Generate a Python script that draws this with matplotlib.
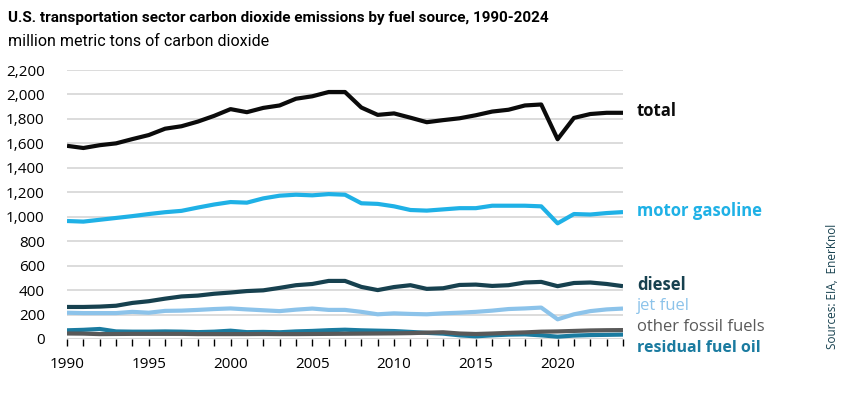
import matplotlib
matplotlib.use('Agg')
import matplotlib.pyplot as plt
import numpy as np

# years on the x axis
years = list(range(1990, 2025))

# million metric tons CO2
total = [1580, 1562, 1585, 1600, 1635, 1668, 1720, 1740, 1778, 1825, 1880, 1855, 1890, 1910, 1965, 1985, 2020, 2020, 1893, 1833, 1845, 1810, 1773, 1790, 1805, 1830, 1860, 1875, 1910, 1918, 1634, 1808, 1840, 1850, 1850]
motor_gasoline = [965, 960, 975, 990, 1005, 1022, 1037, 1048, 1075, 1100, 1120, 1115, 1150, 1172, 1180, 1175, 1185, 1180, 1110, 1105, 1085, 1055, 1050, 1060, 1070, 1070, 1090, 1090, 1090, 1085, 946, 1022, 1018, 1030, 1038]
diesel = [262, 262, 265, 272, 295, 309, 330, 348, 355, 370, 380, 392, 398, 418, 440, 450, 475, 475, 426, 400, 425, 440, 410, 415, 442, 445, 434, 440, 462, 467, 432, 458, 462, 450, 432]
jet_fuel = [215, 212, 212, 212, 222, 215, 230, 232, 238, 245, 250, 242, 235, 228, 240, 249, 238, 238, 222, 202, 210, 205, 202, 210, 215, 222, 232, 245, 250, 257, 161, 202, 228, 242, 249]
other_fossil = [45, 44, 40, 41, 42, 42, 42, 42, 40, 40, 40, 40, 41, 40, 40, 41, 42, 43, 44, 45, 46, 48, 52, 55, 45, 41, 45, 50, 54, 60, 62, 66, 70, 72, 73]
residual_fuel = [71, 75, 82, 62, 60, 60, 62, 60, 56, 60, 68, 56, 58, 55, 62, 66, 72, 76, 71, 68, 65, 58, 50, 44, 30, 22, 30, 36, 38, 30, 19, 28, 32, 34, 36]

yticks = list(range(0, 2201, 200))
xticks = [1990, 1995, 2000, 2005, 2010, 2015, 2020]

series = [
    ('total', total, '#0b0b0b', 111, 'bold'),
    ('motor gasoline', motor_gasoline, '#1fb1e6', 211, 'bold'),
    ('diesel', diesel, '#17414f', 285, 'bold'),
    ('jet fuel', jet_fuel, '#8cc3ea', 306, 'normal'),
    ('residual fuel oil', residual_fuel, '#1a7ba0', 348, 'bold'),
    ('other fossil fuels', other_fossil, '#595959', 327, 'normal'),
]

plt.rcParams['font.family'] = ['Open Sans', 'DejaVu Sans']

W, H = 860, 396
fig = plt.figure(figsize=(W / 100, H / 100), dpi=100)
ax = fig.add_axes([67 / W, 1 - 339 / H, 556 / W, 269 / H])

for name, vals, col, ly, wt in series:
    ax.plot(years, vals, color=col, lw=3.0, solid_capstyle='butt', zorder=3)
    fs = 11.5 if name == 'residual fuel oil' else 12
    fig.text(637 / W, 1 - ly / H, name, color=col, fontsize=fs,
             fontweight=wt, va='center', ha='left')

ax.set_xlim(1990, 2024)
ax.set_ylim(0, 2200)
ax.set_yticks(yticks)
ax.set_yticklabels([f'{v:,}' for v in yticks])
ax.set_xticks(xticks)
ax.set_xticks(years, minor=True)
ax.grid(axis='y', color='#d9d9d9', lw=1.3, zorder=0)
for s in ax.spines.values():
    s.set_visible(False)
ax.tick_params(axis='y', length=0, labelsize=11, pad=16)
ax.tick_params(axis='x', which='both', length=5, width=1, color='black',
               direction='out', labelsize=11, pad=8)
ax.axhline(0, color='#d9d9d9', lw=1.3, zorder=1)

fig.text(8 / W, 1 - 18 / H,
         'U.S. transportation sector carbon dioxide emissions by fuel source, 1990-2024',
         family=['Roboto', 'DejaVu Sans'],
         fontsize=11, fontweight='bold', va='center', ha='left')
fig.text(8 / W, 1 - 42 / H, 'million metric tons of carbon dioxide',
         family=['Roboto', 'DejaVu Sans'],
         fontsize=11.5, va='center', ha='left')
fig.text(833 / W, 1 - 286 / H, 'Sources: EIA,  EnerKnol', rotation=90,
         fontsize=8.5, color='#17414f', va='center', ha='center')

fig.savefig('out.png', dpi=100)
